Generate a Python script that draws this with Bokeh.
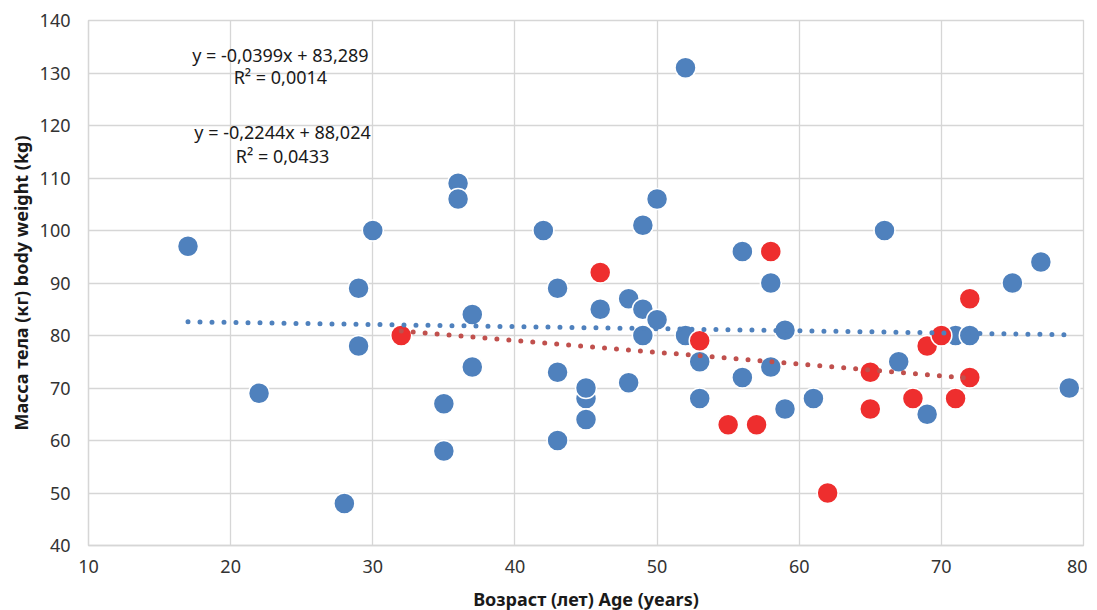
from bokeh.plotting import figure
from bokeh.models import Label, Range1d, FixedTicker, ColumnDataSource
from bokeh.embed import file_html
from bokeh.resources import INLINE
import numpy as np

# Data
blue_age = [17, 22, 28, 29, 29, 30, 35, 35, 36, 36, 37, 37, 42, 43, 43, 43,
            45, 45, 45, 46, 48, 48, 49, 49, 49, 50, 50, 52, 52, 53, 53,
            56, 56, 58, 58, 59, 59, 61, 66, 67, 69, 71, 72, 75, 77, 79]
blue_weight = [97, 69, 48, 89, 78, 100, 67, 58, 109, 106, 84, 74, 100, 89, 73, 60,
               68, 70, 64, 85, 87, 71, 101, 85, 80, 106, 83, 131, 80, 75, 68,
               96, 72, 90, 74, 81, 66, 68, 100, 75, 65, 80, 80, 90, 94, 70]
red_age = [32, 46, 53, 55, 57, 58, 62, 65, 65, 68, 69, 70, 71, 72, 72]
red_weight = [80, 92, 79, 63, 63, 96, 50, 73, 66, 68, 78, 80, 68, 87, 72]

# Trendline coefficients (as labelled on the chart)
blue_slope, blue_intercept, blue_r2 = -0.0399, 83.289, 0.0014
red_slope, red_intercept, red_r2 = -0.2244, 88.024, 0.0433

x_ticks = [10, 20, 30, 40, 50, 60, 70, 80]
y_ticks = [40, 50, 60, 70, 80, 90, 100, 110, 120, 130, 140]

BLUE = "#4f81bd"
RED = "#ee2e2e"
RED_TREND = "#c0504d"
GRID = "#d6d6d6"
FONT = "Noto Sans"

p = figure(frame_width=995, frame_height=525,
           x_range=Range1d(10, 80), y_range=Range1d(40, 140),
           output_backend="svg", toolbar_location=None,
           min_border_left=88, min_border_top=20, min_border_right=4,
           min_border_bottom=0)

p.background_fill_color = "white"
p.border_fill_color = "white"
p.outline_line_color = GRID
p.outline_line_width = 1.3

for ax, ticks in ((p.xaxis, x_ticks), (p.yaxis, y_ticks)):
    ax.ticker = FixedTicker(ticks=ticks)
    ax.major_tick_out = 0
    ax.major_tick_in = 0
    ax.minor_tick_out = 0
    ax.minor_tick_in = 0
    ax.axis_line_color = GRID
    ax.axis_line_width = 1.3
    ax.major_label_text_font = FONT
    ax.major_label_text_font_size = "18px"
    ax.major_label_text_color = "#333333"
    ax.axis_label_text_font = FONT
    ax.axis_label_text_font_size = "18px"
    ax.axis_label_text_font_style = "bold"
    ax.axis_label_text_color = "#1a1a1a"

p.xaxis.axis_label = "Возраст (лет) Age (years)"
p.yaxis.axis_label = "Масса тела (кг) body weight (kg)"
p.xaxis.major_label_standoff = 14
p.xaxis.axis_label_standoff = 11
p.yaxis.major_label_standoff = 18
p.yaxis.axis_label_standoff = 4

p.xgrid.ticker = FixedTicker(ticks=x_ticks)
p.ygrid.ticker = FixedTicker(ticks=y_ticks)
p.grid.grid_line_color = GRID
p.grid.grid_line_width = 1.3

blue_src = ColumnDataSource(dict(x=blue_age, y=blue_weight))
red_src = ColumnDataSource(dict(x=red_age, y=red_weight))

p.scatter("x", "y", source=blue_src, size=21, fill_color=BLUE,
          line_color="white", line_width=1.5)
p.scatter("x", "y", source=red_src, size=21, fill_color=RED,
          line_color="white", line_width=1.5)

# Trendlines
bx = np.array([min(blue_age), max(blue_age)], dtype=float)
rx = np.array([min(red_age), max(red_age)], dtype=float)
p.line(bx, blue_slope * bx + blue_intercept, line_color=BLUE, line_width=5,
       line_dash="0 12", line_cap="round")
p.line(rx, red_slope * rx + red_intercept, line_color=RED_TREND, line_width=5,
       line_dash="0 12", line_cap="round")


def fmt(v, nd):
    return f"{v:.{nd}f}".replace(".", ",")


texts = [
    (23.5, 133.5, f"y = {fmt(blue_slope, 4)}x + {fmt(blue_intercept, 3)}"),
    (23.5, 129.3, f"R² = {fmt(blue_r2, 4)}"),
    (23.65, 118.7, f"y = {fmt(red_slope, 4)}x + {fmt(red_intercept, 3)}"),
    (23.65, 114.1, f"R² = {fmt(red_r2, 4)}"),
]
for x, y, t in texts:
    p.add_layout(Label(x=x, y=y, text=t, text_align="center",
                       text_baseline="middle", text_font=FONT,
                       text_font_size="18px", text_color="#1a1a1a"))

open("out.html", "w").write(file_html(p, INLINE))
